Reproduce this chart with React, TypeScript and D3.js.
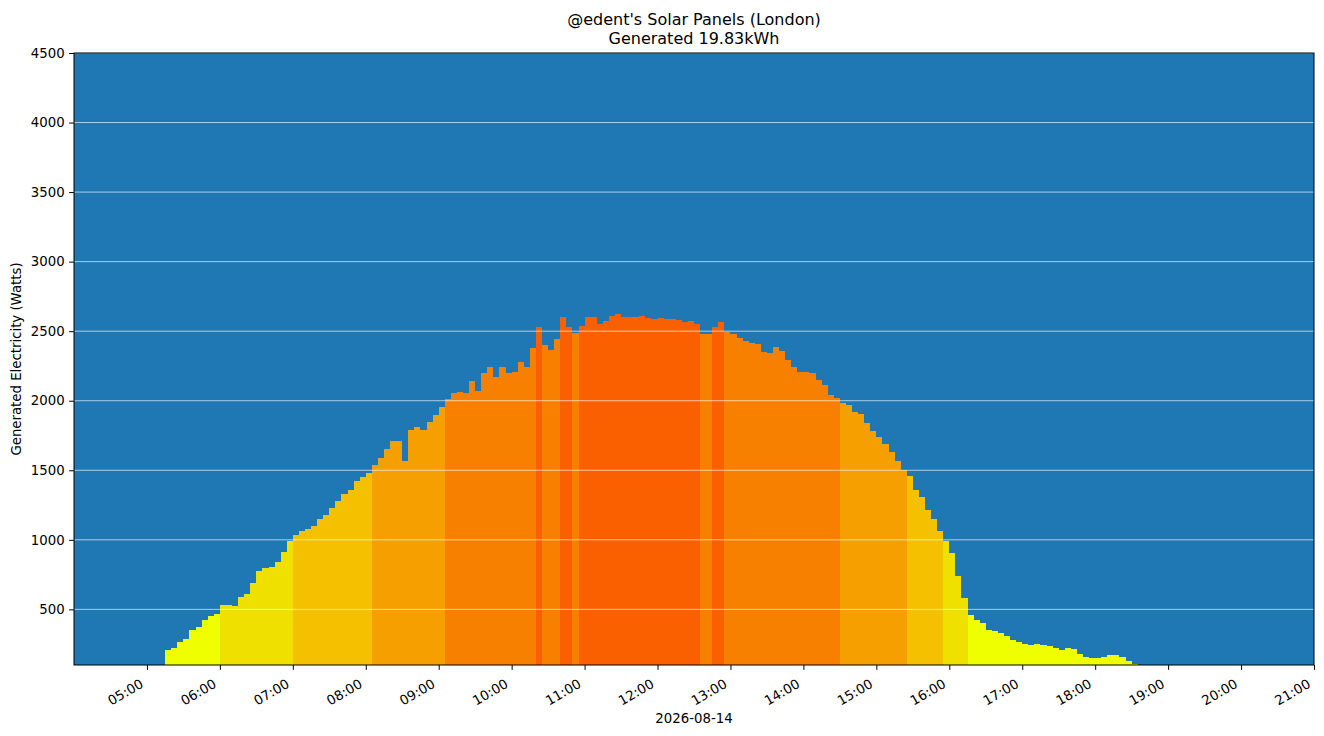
import React from 'react';
import * as d3 from 'd3';

// readings every 5 minutes, starting 05:15
const day = new Date(2026, 7, 14);
const firstReading = '05:15';
const stepMinutes = 5;
const watts = [
  205, 225, 265, 286, 350, 370, 420, 455, 470, 530,
  530, 525, 590, 610, 690, 775, 795, 805, 840, 915,
  995, 1035, 1060, 1080, 1100, 1150, 1180, 1230, 1282, 1330,
  1360, 1420, 1450, 1480, 1540, 1590, 1650, 1710, 1710, 1570,
  1790, 1810, 1790, 1850, 1900, 1955, 2010, 2055, 2065, 2058,
  2145, 2070, 2200, 2240, 2170, 2240, 2200, 2205, 2280, 2240,
  2380, 2530, 2400, 2365, 2445, 2600, 2530, 2485, 2540, 2600,
  2600, 2550, 2570, 2610, 2625, 2602, 2600, 2605, 2610, 2595,
  2590, 2598, 2590, 2590, 2580, 2565, 2570, 2550, 2480, 2480,
  2530, 2565, 2495, 2480, 2450, 2430, 2413, 2410, 2350, 2340,
  2385, 2360, 2290, 2240, 2210, 2205, 2197, 2150, 2110, 2040,
  2020, 1985, 1970, 1920, 1905, 1840, 1780, 1740, 1690, 1630,
  1570, 1505, 1460, 1360, 1310, 1215, 1150, 1060, 995, 905,
  740, 580, 460, 420, 400, 350, 345, 330, 305, 280,
  265, 250, 245, 250, 245, 235, 220, 205, 225, 215,
  180, 160, 152, 150, 160, 170, 175, 160, 130, 110,
];

const bandLimits = [500, 1000, 1500, 2000, 2500];
const bandColours = ['#f0ff00', '#f0e000', '#f4c000', '#f5a000', '#f78000', '#fa6000'];
const yTicks = [500, 1000, 1500, 2000, 2500, 3000, 3500, 4000, 4500];
const hourTicks = ['05:00', '06:00', '07:00', '08:00', '09:00', '10:00', '11:00', '12:00', '13:00',
  '14:00', '15:00', '16:00', '17:00', '18:00', '19:00', '20:00', '21:00'];
const titleLines = ["@edent's Solar Panels (London)", 'Generated 19.83kWh'];

const at = (hm: string) => {
  const [h, m] = hm.split(':').map(Number);
  return new Date(day.getFullYear(), day.getMonth(), day.getDate(), h, m);
};

export default function App() {
  const ref = React.useRef<SVGSVGElement>(null);

  React.useEffect(() => {
    const width = 1324;
    const height = 736;
    const margin = { top: 53, right: 10, bottom: 71, left: 74 };
    const font = 'DejaVu Sans, sans-serif';

    const svg = d3.select(ref.current);
    svg.selectAll('*').remove();
    svg.attr('width', width).attr('height', height);

    const x = d3.scaleTime()
      .domain([at('04:00'), at('21:00')])
      .range([margin.left, width - margin.right]);
    const y = d3.scaleLinear()
      .domain([100, 4500])
      .range([height - margin.bottom, margin.top]);

    const colour = d3.scaleThreshold<number, string>()
      .domain(bandLimits)
      .range(bandColours);

    // plot background
    svg.append('rect')
      .attr('x', margin.left)
      .attr('y', margin.top)
      .attr('width', x.range()[1] - margin.left)
      .attr('height', y.range()[0] - margin.top)
      .attr('fill', '#1f77b4');

    const start = at(firstReading);
    const readings = watts.map((w, i) => ({
      t0: d3.timeMinute.offset(start, i * stepMinutes),
      t1: d3.timeMinute.offset(start, (i + 1) * stepMinutes),
      w,
    }));

    svg.append('g')
      .attr('shape-rendering', 'crispEdges')
      .selectAll('rect')
      .data(readings)
      .enter()
      .append('rect')
      .attr('x', d => x(d.t0))
      .attr('y', d => y(d.w))
      .attr('width', d => x(d.t1) - x(d.t0))
      .attr('height', d => y(100) - y(d.w))
      .attr('fill', d => colour(d.w));

    // horizontal grid, drawn over the bars
    svg.append('g')
      .selectAll('line')
      .data(yTicks)
      .enter()
      .append('line')
      .attr('x1', margin.left)
      .attr('x2', x.range()[1])
      .attr('y1', d => y(d))
      .attr('y2', d => y(d))
      .attr('stroke', '#ffffff')
      .attr('stroke-opacity', 0.8)
      .attr('stroke-width', 0.8);

    // frame
    svg.append('rect')
      .attr('x', margin.left)
      .attr('y', margin.top)
      .attr('width', x.range()[1] - margin.left)
      .attr('height', y.range()[0] - margin.top)
      .attr('fill', 'none')
      .attr('stroke', '#000')
      .attr('stroke-width', 1);

    // y axis
    const yAxis = svg.append('g')
      .attr('transform', `translate(${margin.left},0)`)
      .call(d3.axisLeft(y)
        .tickValues(yTicks)
        .tickFormat(d3.format('d') as any)
        .tickSize(4.9)
        .tickPadding(4.5));
    yAxis.select('.domain').remove();
    yAxis.selectAll('text').attr('font-size', 13.3).attr('font-family', font).attr('fill', '#000');

    // x axis
    const xAxis = svg.append('g')
      .attr('transform', `translate(0,${y.range()[0]})`)
      .call(d3.axisBottom(x)
        .tickValues(hourTicks.map(at))
        .tickFormat(d3.timeFormat('%H:%M') as any)
        .tickSize(4.9));
    xAxis.select('.domain').remove();
    xAxis.selectAll('text')
      .attr('font-size', 13.3)
      .attr('font-family', font)
      .attr('fill', '#000')
      .attr('text-anchor', 'end')
      .attr('dy', null)
      .attr('y', 0)
      .attr('transform', 'translate(-3,21.5) rotate(-30)');

    // labels
    svg.append('text')
      .attr('x', (margin.left + x.range()[1]) / 2)
      .attr('y', 722.5)
      .attr('text-anchor', 'middle')
      .attr('font-size', 13.3)
      .attr('font-family', font)
      .text('2026-08-14');

    svg.append('text')
      .attr('transform', `translate(20.5,${(margin.top + y.range()[0]) / 2}) rotate(-90)`)
      .attr('text-anchor', 'middle')
      .attr('font-size', 13.3)
      .attr('font-family', font)
      .text('Generated Electricity (Watts)');

    svg.append('g')
      .selectAll('text')
      .data(titleLines)
      .enter()
      .append('text')
      .attr('x', (margin.left + x.range()[1]) / 2)
      .attr('y', (_, i) => 24.5 + i * 19)
      .attr('text-anchor', 'middle')
      .attr('font-size', 16)
      .attr('font-family', font)
      .text(d => d);
  }, []);

  return <svg ref={ref} style={{ position: 'absolute', left: 0, top: 0, background: '#fff' }} />;
}
